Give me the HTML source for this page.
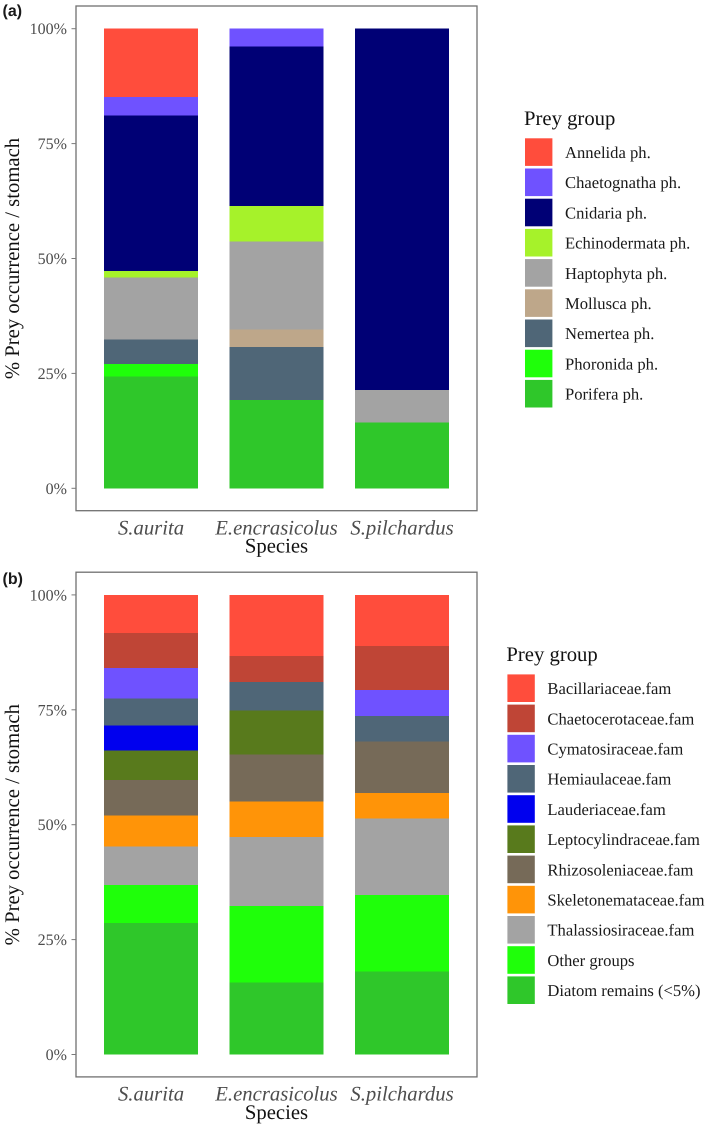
<!DOCTYPE html>
<html lang="en">
<head>
<meta charset="utf-8">
<title>Prey occurrence per stomach by species</title>
<style>
  html, body { margin: 0; padding: 0; background: #fff; width: 709px; height: 1128px; overflow: hidden; }
  svg { display: block; }
  text { font-family: "Liberation Serif", serif; text-rendering: geometricPrecision; }
  .panel-tag { font-family: "Liberation Sans", sans-serif; font-weight: bold; font-size: 16px; fill: #1a1a1a; }
  .tick-text { font-size: 16px; fill: #4d4d4d; text-anchor: end; }
  .cat-text { font-size: 20.7px; font-style: italic; fill: #4d4d4d; text-anchor: middle; }
  .axis-title { font-size: 20.7px; fill: #111; text-anchor: middle; }
  .legend-title { font-size: 20.7px; fill: #111; }
  .legend-text { font-size: 16.6px; fill: #1a1a1a; }
</style>
</head>
<body>
<svg id="figure" xmlns="http://www.w3.org/2000/svg" width="709" height="1128" viewBox="0 0 709 1128"></svg>
<script>
// ---- Shared data ----
const categories = ["S.aurita", "E.encrasicolus", "S.pilchardus"];
const tickValues = [0, 25, 50, 75, 100];
const tickLabels = ["0%", "25%", "50%", "75%", "100%"];

// ---- Panel (a): phyla ----
const groupsA = ["Annelida ph.", "Chaetognatha ph.", "Cnidaria ph.", "Echinodermata ph.", "Haptophyta ph.", "Mollusca ph.", "Nemertea ph.", "Phoronida ph.", "Porifera ph."];
const auritaA = [14.9, 4.0, 33.8, 1.4, 13.5, 0, 5.4, 2.7, 24.3];
const encrasicolusA = [0, 3.9, 34.7, 7.7, 19.2, 3.8, 11.5, 0, 19.2];
const pilchardusA = [0, 0, 78.6, 0, 7.1, 0, 0, 0, 14.3];

// ---- Panel (b): diatom families ----
const groupsB = ["Bacillariaceae.fam", "Chaetocerotaceae.fam", "Cymatosiraceae.fam", "Hemiaulaceae.fam", "Lauderiaceae.fam", "Leptocylindraceae.fam", "Rhizosoleniaceae.fam", "Skeletonemataceae.fam", "Thalassiosiraceae.fam", "Other groups", "Diatom remains (<5%)"];
const auritaB = [8.3, 7.6, 6.6, 5.9, 5.5, 6.4, 7.7, 6.7, 8.4, 8.3, 28.6];
const encrasicolusB = [13.3, 5.6, 0, 6.3, 0, 9.5, 10.2, 7.8, 15.0, 16.6, 15.7];
const pilchardusB = [11.1, 9.6, 5.7, 5.5, 0, 0, 11.2, 5.5, 16.7, 16.6, 18.1];

// ---- Palettes ----
const paletteA = ["#ff4d3c", "#6f52ff", "#000075", "#a6f22a", "#a3a3a3", "#bea78a", "#4f6677", "#1fff0a", "#2fc72a"];
const paletteB = ["#ff4d3c", "#bf4536", "#6f52ff", "#4f6677", "#0000ee", "#587a1c", "#766a58", "#ff9408", "#a3a3a3", "#1fff0a", "#2fc72a"];

const svg = document.getElementById("figure");
const NS = "http://www.w3.org/2000/svg";

function make(tag, parent, props, text) {
  const el = document.createElementNS(NS, tag);
  for (const k in props) el.setAttribute(k, props[k]);
  if (text !== undefined) el.textContent = text;
  parent.appendChild(el);
  return el;
}

function slug(s) {
  return s.toLowerCase().replace(/[^a-z0-9]+/g, "-").replace(/^-|-$/g, "");
}

function drawPanel(p) {
  const plot = { left: 76, right: 477, top: p.top, bottom: p.top + 504.7 };
  const yZero = p.top + 482.3;
  const yFull = p.top + 22.7;
  const barW = 94;
  const yScale = v => yZero - (v / 100) * (yZero - yFull);
  const xScale = i => 151 + i * 125.5;

  const g = make("g", svg, {});
  
  

  const tag = make("text", g, { x: 2.5, y: p.tagY, class: "panel-tag" }, "(" + p.tag + ")");
  
  

  // stacked bars: the first group sits on top, so stack from the end upward
  p.series.forEach((values, c) => {
    let cum = 0;
    for (let s = values.length - 1; s >= 0; s--) {
      const v = values[s];
      if (v <= 0) continue;
      const y1 = yScale(cum + v);
      const y0 = yScale(cum);
      const seg = make("rect", g, {
        x: xScale(c) - barW / 2,
        y: y1,
        width: barW,
        height: y0 - y1,
        fill: p.palette[s],
        "shape-rendering": "crispEdges"
      });
      
      
      cum += v;
    }
  });

  // frame
  const frame = make("rect", g, {
    x: plot.left,
    y: plot.top,
    width: plot.right - plot.left,
    height: plot.bottom - plot.top,
    fill: "none",
    stroke: "#707070",
    "stroke-width": 1.3
  });
  
  

  // y axis
  tickValues.forEach((t, i) => {
    const y = yScale(t);
    const tm = make("line", g, { x1: 71.5, x2: 76, y1: y, y2: y, stroke: "#7a7a7a", "stroke-width": 1 });
    
    
    const tl = make("text", g, { x: 67, y: y + 5.5, class: "tick-text" }, tickLabels[i]);
    
    
  });

  // x axis
  categories.forEach((name, i) => {
    const cl = make("text", g, { x: xScale(i), y: plot.bottom + 23.8, class: "cat-text" }, name);
    
    
  });

  const xt = make("text", g, { x: 276.5, y: plot.bottom + 42, class: "axis-title" }, "Species");
  
  

  const yMid = (yZero + yFull) / 2;
  const yt = make("text", g, { x: 19, y: yMid, class: "axis-title", transform: "rotate(-90 19 " + yMid + ")" }, "% Prey occurrence / stomach");
  
  

  // legend
  const leg = make("g", g, {});
  
  

  const lt = make("text", leg, { x: p.legendX - 1, y: p.legendTop - 13.2, class: "legend-title" }, "Prey group");
  
  

  p.groups.forEach((name, i) => {
    const y = p.legendTop + i * 30.2;
    const sw = make("rect", leg, { x: p.legendX, y: y, width: 27.4, height: 27.6, fill: p.palette[i] });
    
    
    const tx = make("text", leg, { x: p.legendX + 40, y: y + 19.7, class: "legend-text" }, name);
    
    
  });
}

drawPanel({
  tag: "a", top: 6, tagY: 16,
  legendX: 525, legendTop: 138.3,
  groups: groupsA, palette: paletteA,
  series: [auritaA, encrasicolusA, pilchardusA]
});

drawPanel({
  tag: "b", top: 572.2, tagY: 584,
  legendX: 507.4, legendTop: 674.4,
  groups: groupsB, palette: paletteB,
  series: [auritaB, encrasicolusB, pilchardusB]
});
</script>
</body>
</html>
